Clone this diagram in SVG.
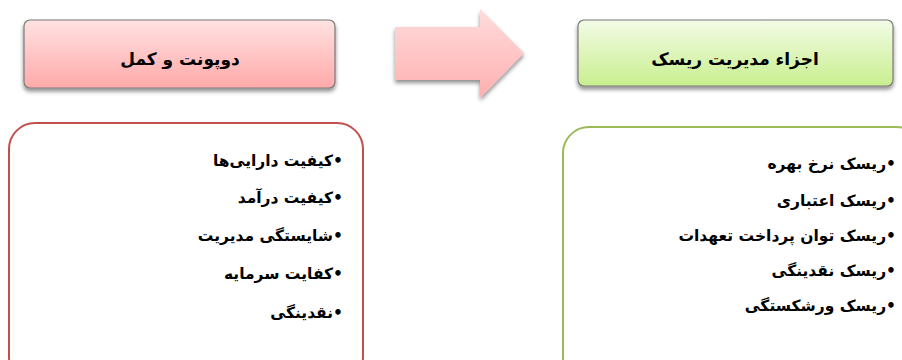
<svg xmlns="http://www.w3.org/2000/svg" width="902" height="360" viewBox="0 0 902 360">
<defs>
<linearGradient id="gPink" x1="0" y1="0" x2="0" y2="1">
<stop offset="0" stop-color="#ffe2e2"/>
<stop offset="1" stop-color="#ffa9a9"/>
</linearGradient>
<linearGradient id="gGreen" x1="0" y1="0" x2="0" y2="1">
<stop offset="0" stop-color="#f3fbe6"/>
<stop offset="1" stop-color="#c8ef8e"/>
</linearGradient>
<linearGradient id="gArrow" x1="0" y1="0" x2="0" y2="1">
<stop offset="0" stop-color="#ffdcdc"/>
<stop offset="1" stop-color="#ffb0b0"/>
</linearGradient>
<filter id="sh" x="-10%" y="-20%" width="120%" height="150%">
<feGaussianBlur in="SourceAlpha" stdDeviation="2.2"/>
<feOffset dx="0" dy="3" result="b"/>
<feComponentTransfer><feFuncA type="linear" slope="0.45"/></feComponentTransfer>
<feMerge><feMergeNode/><feMergeNode in="SourceGraphic"/></feMerge>
</filter>
</defs>
<style>
.hdr{font-family:"DejaVu Sans",sans-serif;font-weight:bold;font-size:17px;fill:#000;text-anchor:middle}
.item{font-family:"DejaVu Sans",sans-serif;font-weight:bold;font-size:15.5px;fill:#000;direction:rtl;text-anchor:start}
.hbox{stroke:#7a7a7a;stroke-width:1.2}
</style>
<rect width="902" height="360" fill="#ffffff"/>
<g id="node-dupont">
<rect class="hbox" x="24" y="20" width="311" height="68" rx="6" fill="url(#gPink)" filter="url(#sh)"/>
<text class="hdr" x="180" y="65" direction="rtl">دوپونت و کمل</text>
</g>
<g id="connectors">
<path d="M395,27 L480,27 L480,9 L524,53 L480,98 L480,80 L395,80 Z" fill="url(#gArrow)" filter="url(#sh)"/>
</g>
<g id="node-risk">
<rect class="hbox" x="578" y="20" width="315" height="66" rx="6" fill="url(#gGreen)" filter="url(#sh)"/>
<text class="hdr" x="735" y="65" direction="rtl">اجزاء مدیریت ریسک</text>
</g>
<g id="node-dupont-list">
<rect x="9" y="123" width="354" height="260" rx="26" fill="#ffffff" stroke="#c0504d" stroke-width="2"/>
<text class="item" x="343" y="166">•کیفیت دارایی‌ها</text>
<text class="item" x="343" y="203">•کیفیت درآمد</text>
<text class="item" x="343" y="241">•شایستگی مدیریت</text>
<text class="item" x="343" y="279">•کفایت سرمایه</text>
<text class="item" x="343" y="318">•نقدینگی</text>
</g>
<g id="node-risk-list">
<rect x="563" y="127" width="360" height="260" rx="26" fill="#ffffff" stroke="#9bbb59" stroke-width="2"/>
<text class="item" x="896" y="169">•ریسک نرخ بهره</text>
<text class="item" x="896" y="206">•ریسک اعتباری</text>
<text class="item" x="896" y="241">•ریسک توان پرداخت تعهدات</text>
<text class="item" x="896" y="276">•ریسک نقدینگی</text>
<text class="item" x="896" y="311">•ریسک ورشکستگی</text>
</g>
</svg>
